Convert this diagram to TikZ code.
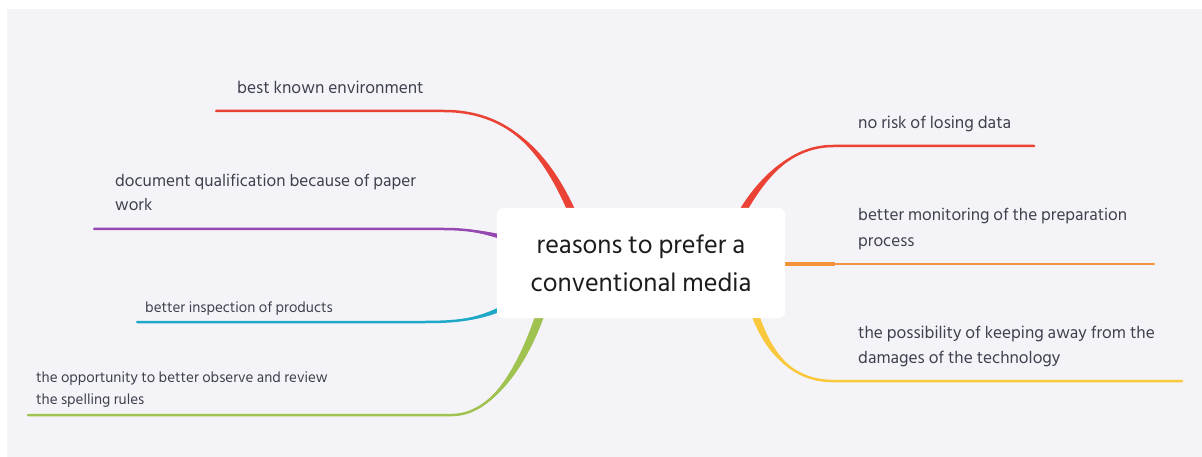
\documentclass[tikz,border=0pt]{standalone}
\usepackage{fontspec}
\setmainfont{Hind Siliguri}
\usetikzlibrary{calc}
\definecolor{bg}{RGB}{244,244,248}
\definecolor{txt}{RGB}{62,66,78}
\definecolor{ctxt}{RGB}{28,28,30}
\definecolor{cred}{RGB}{234,67,53}
\definecolor{cpurple}{RGB}{148,72,176}
\definecolor{ccyan}{RGB}{30,168,200}
\definecolor{cgreen}{RGB}{160,194,80}
\definecolor{corange}{RGB}{242,146,58}
\definecolor{cyellow}{RGB}{249,200,60}
\tikzset{
  lbl/.style={anchor=west, inner sep=0pt, text=txt, align=left},
  thin branch/.style={line width=2.5pt, line cap=round},
  hub/.style={fill=white, rounded corners=6pt, minimum width=288pt, minimum height=110pt, inner sep=0pt, text=ctxt, align=center, font=\fontsize{26.2}{38}\selectfont}
}
\begin{document}
\begin{tikzpicture}[x=1pt,y=-1pt]
\useasboundingbox (0,0) rectangle (1202,457);
\fill[white] (0,0) rectangle (1202,457);
\fill[bg] (7,9) rectangle (1202,457);

% junction and end coordinates
\coordinate (e1) at (216,111);  \coordinate (a1) at (444,111);
\coordinate (e2) at (94,229);   \coordinate (a2) at (444,229);
\coordinate (e3) at (137,322);  \coordinate (a3) at (425,322);
\coordinate (e4) at (28,415);   \coordinate (a4) at (452,415);
\coordinate (e5) at (1034,146); \coordinate (a5) at (833,146);
\coordinate (e6) at (1154,264); \coordinate (a6) at (835,264);
\coordinate (e7) at (1182,381); \coordinate (a7) at (833,381);
\coordinate (o6) at (770,264);

% left red
\fill[cred] (a1) .. controls (515,111) and ($(555,160)+(3.8,-1.3)$) .. ($(585,245)+(3.8,-1.3)$)
  -- ($(585,245)-(3.8,-1.3)$) .. controls ($(555,160)-(3.8,-1.3)$) and (515,111) .. (a1) -- cycle;
\draw[cred, thin branch] (e1) -- (a1) .. controls (515,111) and (555,160) .. (585,245);
% left purple
\fill[cpurple] (a2) .. controls (470,229) and ($(490,233)+(-0.8,2.4)$) .. ($(515,241)+(-0.8,2.4)$)
  -- ($(515,241)-(-0.8,2.4)$) .. controls ($(490,233)-(-0.8,2.4)$) and (470,229) .. (a2) -- cycle;
\draw[cpurple, thin branch] (e2) -- (a2) .. controls (470,229) and (490,233) .. (515,241);
% left cyan
\fill[ccyan] (a3) .. controls (465,322) and ($(485,318)+(1.2,2.2)$) .. ($(515,302)+(1.2,2.2)$)
  -- ($(515,302)-(1.2,2.2)$) .. controls ($(485,318)-(1.2,2.2)$) and (465,322) .. (a3) -- cycle;
\draw[ccyan, thin branch] (e3) -- (a3) .. controls (465,322) and (485,318) .. (515,302);
% left green
\fill[cgreen] (a4) .. controls (490,415) and ($(525,370)+(4.3,1.2)$) .. ($(548,290)+(4.3,1.2)$)
  -- ($(548,290)-(4.3,1.2)$) .. controls ($(525,370)-(4.3,1.2)$) and (490,415) .. (a4) -- cycle;
\draw[cgreen, thin branch] (e4) -- (a4) .. controls (490,415) and (525,370) .. (548,290);
% right red
\fill[cred] (a5) .. controls (790,146) and ($(755,180)+(3.6,1.6)$) .. ($(728,240)+(3.6,1.6)$)
  -- ($(728,240)-(3.6,1.6)$) .. controls ($(755,180)-(3.6,1.6)$) and (790,146) .. (a5) -- cycle;
\draw[cred, thin branch] (e5) -- (a5) .. controls (790,146) and (755,180) .. (728,240);
% right orange
\draw[corange, line width=4pt] (o6) -- (a6);
\draw[corange, thin branch] (a6) -- (e6);
% right yellow
\fill[cyellow] (a7) .. controls (790,381) and ($(762,350)+(3.9,-0.9)$) .. ($(748,290)+(3.9,-0.9)$)
  -- ($(748,290)-(3.9,-0.9)$) .. controls ($(762,350)-(3.9,-0.9)$) and (790,381) .. (a7) -- cycle;
\draw[cyellow, thin branch] (e7) -- (a7) .. controls (790,381) and (762,350) .. (748,290);

% central topic
\node[hub] (c) at (641,263) {reasons to prefer a\\conventional media};

% labels
\node[lbl, font=\fontsize{17.4}{24}\selectfont] (l1) at (237,87) {best known environment};
\node[lbl, font=\fontsize{17.2}{24}\selectfont] (l2) at (115,192) {document qualification because of paper\\work};
\node[lbl, font=\fontsize{15}{22}\selectfont] (l3) at (145,309) {better inspection of products};
\node[lbl, font=\fontsize{15}{22}\selectfont] (l4) at (36,390) {the opportunity to better observe and review\\the spelling rules};
\node[lbl, font=\fontsize{17.4}{24}\selectfont] (r1) at (858,124) {no risk of losing data};
\node[lbl, font=\fontsize{17.2}{26}\selectfont] (r2) at (858,229) {better monitoring of the preparation\\process};
\node[lbl, font=\fontsize{17.3}{25}\selectfont] (r3) at (858,346) {the possibility of keeping away from the\\damages of the technology};
\end{tikzpicture}
\end{document}
